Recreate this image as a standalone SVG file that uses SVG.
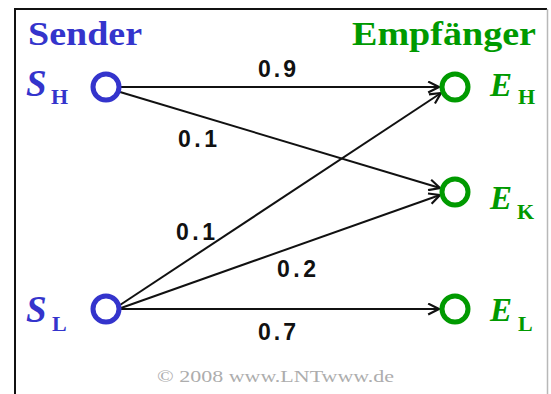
<svg xmlns="http://www.w3.org/2000/svg" width="551" height="394" viewBox="0 0 551 394">
  <defs>
    <style>
      .title { font-family: "Liberation Serif", "DejaVu Serif", serif; font-weight: bold; font-size: 33px; }
      .blue { fill: #3434cc; }
      .green { fill: #009a00; }
      .sym { font-family: "Liberation Serif", "DejaVu Serif", serif; font-weight: bold; font-style: italic; }
      .sub { font-family: "Liberation Serif", "DejaVu Serif", serif; font-weight: bold; font-size: 22px; }
      .num { font-family: "Liberation Sans", Arial, sans-serif; font-weight: bold; font-size: 23px; fill: #111; }
      .src { fill: none; stroke: #3434cc; stroke-width: 5; }
      .dst { fill: none; stroke: #009a00; stroke-width: 5; }
      .edge { stroke: #111; stroke-width: 2; fill: none; marker-end: url(#arr); }
      .copy { font-family: "Liberation Serif", "DejaVu Serif", serif; font-size: 17px; fill: #adadad; }
    </style>
    <marker id="arr" viewBox="0 0 12 12" refX="11" refY="6" markerWidth="13" markerHeight="13" markerUnits="userSpaceOnUse" orient="auto">
      <path d="M1,1 L11,6 L1,11" fill="none" stroke="#111" stroke-width="2"/>
    </marker>
  </defs>
  <rect x="0" y="0" width="551" height="394" fill="#ffffff"/>
  <!-- frame -->
  <path d="M15,394 V9 H547" fill="none" stroke="#111" stroke-width="2"/>
  <path d="M547.5,9 V394" fill="none" stroke="#b8b8b8" stroke-width="1.5"/>

  <g id="headers">
    <text class="title blue" x="28" y="45" textLength="114" lengthAdjust="spacingAndGlyphs">Sender</text>
    <text class="title green" x="352" y="45" textLength="184" lengthAdjust="spacingAndGlyphs">Empfänger</text>
  </g>

  <g id="connectors">
    <line class="edge" x1="121" y1="87" x2="439" y2="87"/>
    <line class="edge" x1="120" y1="92" x2="440" y2="188"/>
    <line class="edge" x1="120" y1="305" x2="441" y2="93"/>
    <line class="edge" x1="121" y1="308" x2="440" y2="195"/>
    <line class="edge" x1="121" y1="309" x2="439" y2="309"/>
  </g>

  <g id="labels">
    <text class="num" x="258" y="77" textLength="38" lengthAdjust="spacing">0.9</text>
    <text class="num" x="178" y="147" textLength="39" lengthAdjust="spacing">0.1</text>
    <text class="num" x="176" y="240" textLength="39" lengthAdjust="spacing">0.1</text>
    <text class="num" x="277" y="277" textLength="39" lengthAdjust="spacing">0.2</text>
    <text class="num" x="258" y="340" textLength="38" lengthAdjust="spacing">0.7</text>
  </g>

  <g id="S_H">
    <circle class="src" cx="106" cy="87" r="13"/>
    <text class="sym blue" x="26" y="96" font-size="37">S</text>
    <text class="sub blue" x="51" y="104">H</text>
  </g>
  <g id="S_L">
    <circle class="src" cx="106" cy="309" r="13"/>
    <text class="sym blue" x="26" y="322" font-size="37">S</text>
    <text class="sub blue" x="52" y="331">L</text>
  </g>
  <g id="E_H">
    <circle class="dst" cx="455" cy="87" r="13"/>
    <text class="sym green" x="490" y="96" font-size="33">E</text>
    <text class="sub green" x="518" y="104">H</text>
  </g>
  <g id="E_K">
    <circle class="dst" cx="455" cy="192" r="13"/>
    <text class="sym green" x="490" y="209" font-size="33">E</text>
    <text class="sub green" x="517" y="219">K</text>
  </g>
  <g id="E_L">
    <circle class="dst" cx="455" cy="309" r="13"/>
    <text class="sym green" x="490" y="321" font-size="33">E</text>
    <text class="sub green" x="518" y="331">L</text>
  </g>

  <text class="copy" x="157" y="382" textLength="237" lengthAdjust="spacingAndGlyphs">© 2008 www.LNTwww.de</text>
</svg>
